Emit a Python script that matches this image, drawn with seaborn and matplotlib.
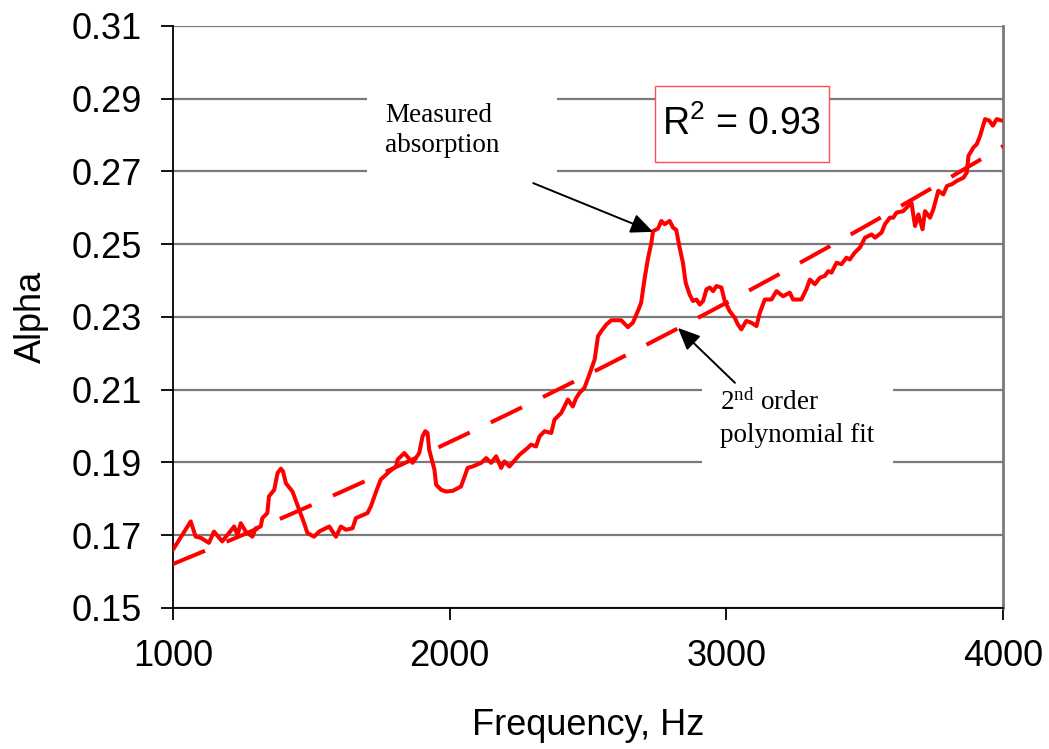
import numpy as np
import pandas as pd
import matplotlib
matplotlib.use("Agg")
import matplotlib.pyplot as plt
from matplotlib.patches import Rectangle
import seaborn as sns

# Measured absorption coefficient vs. frequency
freq_hz = [
    1000, 1022, 1064, 1082, 1100, 1130, 1148, 1178, 1221, 1233, 1245, 1263,
    1287, 1299, 1317, 1323, 1341, 1347, 1366, 1378, 1390, 1398, 1408, 1432,
    1456, 1474, 1486, 1510, 1528, 1565, 1589, 1607, 1625, 1649, 1661, 1703,
    1715, 1739, 1751, 1782, 1806, 1812, 1836, 1866, 1890, 1902, 1912, 1920,
    1926, 1945, 1951, 1969, 1987, 2011, 2041, 2065, 2083, 2114, 2132, 2150,
    2168, 2186, 2198, 2216, 2252, 2282, 2294, 2312, 2325, 2343, 2367, 2379,
    2403, 2415, 2427, 2445, 2457, 2469, 2487, 2505, 2524, 2536, 2548, 2566,
    2584, 2620, 2644, 2662, 2680, 2692, 2704, 2716, 2729, 2735, 2753, 2765,
    2777, 2795, 2807, 2819, 2831, 2843, 2853, 2867, 2879, 2892, 2904, 2916,
    2928, 2940, 2952, 2964, 2982, 2994, 3012, 3030, 3042, 3054, 3072, 3091,
    3109, 3121, 3139, 3163, 3181, 3205, 3229, 3241, 3271, 3289, 3302, 3320,
    3338, 3356, 3368, 3380, 3398, 3416, 3434, 3446, 3464, 3483, 3501, 3525,
    3537, 3561, 3573, 3591, 3603, 3615, 3639, 3657, 3669, 3682, 3694, 3709,
    3718, 3736, 3748, 3766, 3784, 3797, 3815, 3833, 3857, 3869, 3875, 3893,
    3905, 3917, 3935, 3950, 3963, 3977, 3995,
]
alpha_measured = [
    0.1660, 0.1687, 0.1738, 0.1696, 0.1693, 0.1679, 0.1710, 0.1683, 0.1724, 0.1701, 0.1733, 0.1710,
    0.1696, 0.1719, 0.1724, 0.1747, 0.1761, 0.1807, 0.1825, 0.1871, 0.1883, 0.1875, 0.1843, 0.1820,
    0.1770, 0.1733, 0.1706, 0.1696, 0.1710, 0.1724, 0.1696, 0.1724, 0.1715, 0.1719, 0.1747, 0.1761,
    0.1779, 0.1830, 0.1853, 0.1875, 0.1889, 0.1908, 0.1926, 0.1899, 0.1926, 0.1972, 0.1986, 0.1981,
    0.1935, 0.1880, 0.1839, 0.1825, 0.1820, 0.1822, 0.1834, 0.1885, 0.1889, 0.1899, 0.1912, 0.1899,
    0.1917, 0.1885, 0.1903, 0.1889, 0.1921, 0.1940, 0.1949, 0.1944, 0.1972, 0.1986, 0.1981, 0.2018,
    0.2036, 0.2054, 0.2073, 0.2054, 0.2077, 0.2091, 0.2105, 0.2142, 0.2183, 0.2247, 0.2261, 0.2279,
    0.2291, 0.2291, 0.2272, 0.2284, 0.2316, 0.2339, 0.2403, 0.2458, 0.2504, 0.2536, 0.2543, 0.2564,
    0.2555, 0.2564, 0.2546, 0.2539, 0.2491, 0.2449, 0.2394, 0.2362, 0.2344, 0.2348, 0.2334, 0.2344,
    0.2376, 0.2381, 0.2371, 0.2385, 0.2381, 0.2344, 0.2316, 0.2298, 0.2279, 0.2266, 0.2289, 0.2284,
    0.2275, 0.2312, 0.2348, 0.2348, 0.2371, 0.2357, 0.2367, 0.2348, 0.2348, 0.2376, 0.2403, 0.2390,
    0.2408, 0.2413, 0.2426, 0.2422, 0.2449, 0.2445, 0.2463, 0.2458, 0.2477, 0.2491, 0.2518, 0.2527,
    0.2518, 0.2532, 0.2555, 0.2573, 0.2573, 0.2587, 0.2591, 0.2605, 0.2614, 0.2550, 0.2582, 0.2541,
    0.2591, 0.2573, 0.2596, 0.2647, 0.2637, 0.2660, 0.2665, 0.2674, 0.2683, 0.2697, 0.2743, 0.2766,
    0.2775, 0.2798, 0.2844, 0.2840, 0.2826, 0.2844, 0.2840,
]

x_ticks = [1000, 2000, 3000, 4000]
y_ticks = [0.15, 0.17, 0.19, 0.21, 0.23, 0.25, 0.27, 0.29, 0.31]
r_squared = 0.93

# Second-order polynomial fit through the measured points
coeffs = np.polyfit(freq_hz, alpha_measured, 2)
fit_freq = np.linspace(x_ticks[0], x_ticks[-1], 300)
fit_alpha = np.polyval(coeffs, fit_freq)

measured = pd.DataFrame({"Frequency": freq_hz, "Alpha": alpha_measured})
fitted = pd.DataFrame({"Frequency": fit_freq, "Alpha": fit_alpha})

sns.set_style("white")
plt.rcParams["font.family"] = ["Liberation Sans", "DejaVu Sans"]
plt.rcParams["text.color"] = "black"
plt.rcParams["axes.labelcolor"] = "black"
plt.rcParams["xtick.color"] = "black"
plt.rcParams["ytick.color"] = "black"

fig = plt.figure(figsize=(10.49, 7.49), dpi=100)
ax = fig.add_axes([0.1649, 0.1883, 0.7913, 0.7770])

ax.yaxis.grid(True, color="#7a7a7a", linewidth=1.6)
ax.set_axisbelow(True)

sns.lineplot(data=fitted, x="Frequency", y="Alpha", ax=ax, color="#ff0000",
             linewidth=2.9, zorder=3)
fit_line = ax.lines[-1]
fit_line.set_dashes([8.6, 5.8])
fit_line.set_dash_capstyle("butt")

sns.lineplot(data=measured, x="Frequency", y="Alpha", ax=ax, color="#ff0000",
             linewidth=2.9, zorder=4)

ax.set_xlim(x_ticks[0], x_ticks[-1])
ax.set_ylim(y_ticks[0], y_ticks[-1])
ax.set_xticks(x_ticks)
ax.set_yticks(y_ticks)
ax.set_xticklabels([str(v) for v in x_ticks])
ax.set_yticklabels([f"{v:.2f}" for v in y_ticks])

for side in ("left", "bottom"):
    ax.spines[side].set_color("black")
    ax.spines[side].set_linewidth(1.3)
ax.spines["right"].set_color("#7a7a7a")
ax.spines["right"].set_linewidth(2.0)
ax.spines["top"].set_visible(False)

ax.tick_params(axis="both", which="major", direction="out", length=8.5,
               width=1.3, color="black", labelcolor="black", labelsize=26,
               pad=14, bottom=True, left=True, top=False, right=False)

ax.set_xlabel("Frequency, Hz", fontsize=26, labelpad=24, color="black")
ax.set_ylabel("Alpha", fontsize=26, labelpad=16, color="black")

# White label panels that interrupt the gridlines
ax.add_patch(Rectangle((0.2337, 0.730), 0.229, 0.165, transform=ax.transAxes,
                       facecolor="white", edgecolor="none", zorder=2))
ax.add_patch(Rectangle((0.637, 0.237), 0.231, 0.155, transform=ax.transAxes,
                       facecolor="white", edgecolor="none", zorder=2))

serif = ["Liberation Serif", "DejaVu Serif"]
label_size = 19.5
ax.text(0.2554, 0.8356, "Measured", transform=ax.transAxes, family=serif,
        fontsize=label_size, va="baseline", ha="left", zorder=5)
ax.text(0.2554, 0.784, "absorption", transform=ax.transAxes, family=serif,
        fontsize=label_size, va="baseline", ha="left", zorder=5)
ax.text(0.659, 0.340, r"2$\mathregular{^{nd}}$ order", transform=ax.transAxes,
        family=serif, fontsize=label_size, va="baseline", ha="left", zorder=5)
ax.text(0.659, 0.2857, "polynomial fit", transform=ax.transAxes, family=serif,
        fontsize=label_size, va="baseline", ha="left", zorder=5)

# R-squared box
ax.add_patch(Rectangle((0.5807, 0.766), 0.2093, 0.131, transform=ax.transAxes,
                       facecolor="white", edgecolor="#ff5050", linewidth=1.0,
                       zorder=5))
ax.text(0.6855, 0.8315, r"$\mathregular{R^2}$" + f" = {r_squared:.2f}",
        transform=ax.transAxes, fontsize=27, va="center", ha="center", zorder=6)

# Arrows pointing at the curves
arrow_style = dict(arrowstyle="-|>,head_length=1.35,head_width=0.6",
                   color="black", lw=1.4, shrinkA=0, shrinkB=0)
ax.annotate("", xy=(2735, 0.2534), xytext=(2302, 0.2668),
            arrowprops=arrow_style, zorder=7)
ax.annotate("", xy=(2825, 0.2270), xytext=(3031, 0.2119),
            arrowprops=arrow_style, zorder=7)

fig.savefig("out.png", dpi=100, facecolor="white")
